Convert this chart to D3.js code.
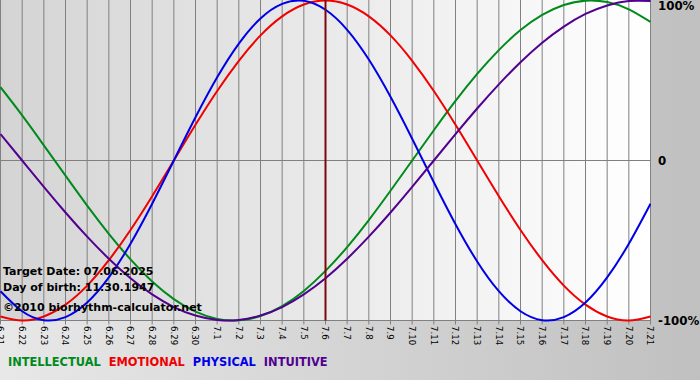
<!DOCTYPE html>
<html>
<head>
<meta charset="utf-8">
<script src="https://cdn.jsdelivr.net/npm/d3@7"></script>
<style>
	body { margin: 0; background: #c8c8c8; }
	.info { font-family: 'DejaVu Sans', sans-serif; font-weight: bold; font-size: 11px; fill: #000; }
	.legend { font-family: 'DejaVu Sans', sans-serif; font-weight: bold; font-size: 11.4px; }
	.pct { font-family: 'DejaVu Sans', sans-serif; font-weight: bold; font-size: 11.8px; fill: #000; }
	.tick { font-family: 'DejaVu Sans', sans-serif; font-size: 8.6px; fill: #000; }
</style>
</head>
<body>
<div id="js_chart"></div>
<script>
// day labels along the bottom
const days = ['6.21', '6.22', '6.23', '6.24', '6.25', '6.26', '6.27', '6.28', '6.29', '6.30',
	'7.1', '7.2', '7.3', '7.4', '7.5', '7.6', '7.7', '7.8', '7.9', '7.10', '7.11',
	'7.12', '7.13', '7.14', '7.15', '7.16', '7.17', '7.18', '7.19', '7.20', '7.21'];
// values per day, -1..1
const intellectual = [0.458, 0.282, 0.095, -0.095, -0.282, -0.458, -0.618, -0.756, -0.866, -0.945, -0.990,
	-0.999, -0.972, -0.910, -0.815, -0.690, -0.541, -0.372, -0.189, 0.000, 0.189,
	0.372, 0.541, 0.690, 0.815, 0.910, 0.972, 0.999, 0.990, 0.945, 0.866];
const emotional = [-0.975, -1.000, -0.975, -0.901, -0.782, -0.623, -0.434, -0.223, 0.000, 0.223, 0.434,
	0.623, 0.782, 0.901, 0.975, 1.000, 0.975, 0.901, 0.782, 0.623, 0.434,
	0.223, 0.000, -0.223, -0.434, -0.623, -0.782, -0.901, -0.975, -1.000, -0.975];
const physical = [-0.817, -0.942, -0.998, -0.979, -0.888, -0.731, -0.520, -0.270, 0.000, 0.270, 0.520,
	0.731, 0.888, 0.979, 0.998, 0.942, 0.817, 0.631, 0.398, 0.136, -0.136,
	-0.398, -0.631, -0.817, -0.942, -0.998, -0.979, -0.888, -0.731, -0.520, -0.270];
const intuitive = [0.165, 0.000, -0.165, -0.325, -0.476, -0.614, -0.736, -0.837, -0.916, -0.969, -0.997,
	-0.997, -0.969, -0.916, -0.837, -0.736, -0.614, -0.476, -0.325, -0.165, 0.000,
	0.165, 0.325, 0.476, 0.614, 0.736, 0.837, 0.916, 0.969, 0.997, 0.997];
const seriesNames = ['INTELLECTUAL', 'EMOTIONAL', 'PHYSICAL', 'INTUITIVE'];
const seriesColors = ['#008a1c', '#f00000', '#0000e6', '#520090'];
const todayIndex = 15;
const infoLines = ['Target Date: 07.06.2025', 'Day of birth: 11.30.1947', '\u00a92010 biorhythm-calculator.net'];
const pctLabels = [[1, '100%'], [0, '0'], [-1, '-100%']];

var width = 700, height = 380;
var plotW = 651, plotH = 321;

var svg = d3.select('#js_chart').append('svg')
	.attr('width', width)
	.attr('height', height);

var defs = svg.append('defs');
var outerGrad = defs.append('linearGradient').attr('id', 'outerGrad');
outerGrad.append('stop').attr('offset', '0%').attr('stop-color', '#e8e8e8');
outerGrad.append('stop').attr('offset', '100%').attr('stop-color', '#c0c0c0');
var plotGrad = defs.append('linearGradient').attr('id', 'plotGrad');
plotGrad.append('stop').attr('offset', '0%').attr('stop-color', '#d4d4d4');
plotGrad.append('stop').attr('offset', '100%').attr('stop-color', '#ffffff');

svg.append('rect').attr('width', width).attr('height', height).style('fill', 'url(#outerGrad)');
svg.append('rect').attr('width', plotW).attr('height', plotH).style('fill', 'url(#plotGrad)');

var x = d3.scaleLinear().domain([0, days.length - 1]).range([0.5, 650.5]);
var y = d3.scaleLinear().domain([-1, 1]).range([320.5, 0.5]);

// vertical grid + ticks
svg.append('g').selectAll('line')
	.data(days).enter().append('line')
	.attr('x1', function (d, i) { return x(i); })
	.attr('x2', function (d, i) { return x(i); })
	.attr('y1', 0)
	.attr('y2', y(-1) + 4)
	.style('stroke', '#808080')
	.style('stroke-width', 1);

// horizontal lines
svg.append('g').selectAll('line')
	.data([0, -1]).enter().append('line')
	.attr('x1', 0).attr('x2', plotW)
	.attr('y1', function (d) { return y(d); })
	.attr('y2', function (d) { return y(d); })
	.style('stroke', '#808080')
	.style('stroke-width', 1);

// day labels, rotated
svg.append('g').selectAll('text')
	.data(days).enter().append('text')
	.classed('tick', true)
	.attr('transform', function (d, i) { return 'translate(' + x(i) + ',' + 326 + ') rotate(90)'; })
	.attr('dy', '0.35em')
	.text(function (d) { return d; });

// curves
var line = d3.line()
	.x(function (d, i) { return x(i); })
	.y(function (d) { return y(d); })
	.curve(d3.curveNatural);
var plotClip = defs.append('clipPath').attr('id', 'plotClip');
plotClip.append('rect').attr('width', plotW).attr('height', plotH + 1);
svg.append('g').attr('clip-path', 'url(#plotClip)').selectAll('path')
	.data([intellectual, emotional, physical, intuitive]).enter().append('path')
	.attr('d', line)
	.style('fill', 'none')
	.style('stroke', function (d, i) { return seriesColors[i]; })
	.style('stroke-width', 2);

// today marker
svg.append('line')
	.attr('x1', x(todayIndex)).attr('x2', x(todayIndex))
	.attr('y1', 0).attr('y2', y(-1))
	.style('stroke', '#7a0a0a')
	.style('stroke-width', 2);

// right percentage labels
svg.append('g').selectAll('text')
	.data(pctLabels).enter().append('text')
	.classed('pct', true)
	.attr('x', 658)
	.attr('y', function (d) { return Math.min(Math.max(y(d[0]), 6), 322); })
	.attr('dy', '0.36em')
	.text(function (d) { return d[1]; });

// info text
svg.append('g').selectAll('text')
	.data(infoLines).enter().append('text')
	.classed('info', true)
	.attr('x', 3)
	.attr('y', function (d, i) { return [275, 291, 311][i]; })
	.text(function (d) { return d; });

// legend, laid out one after the other
var legendG = svg.append('g');
var legendX = 8;
seriesNames.forEach(function (name, i) {
	var t = legendG.append('text')
		.classed('legend', true)
		.attr('x', legendX)
		.attr('y', 366)
		.style('fill', seriesColors[i])
		.text(name);
	legendX += t.node().getComputedTextLength() + 8;
});
</script>
</body>
</html>
